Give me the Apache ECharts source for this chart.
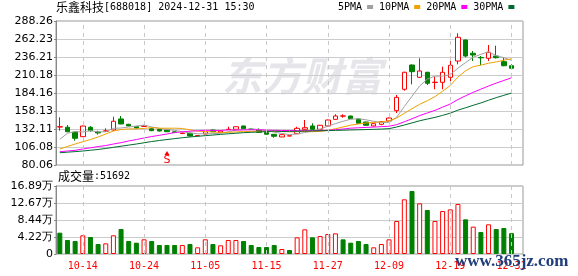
<!DOCTYPE html>
<html>
<head>
<meta charset="utf-8">
<script src="https://cdn.jsdelivr.net/npm/echarts@6/dist/echarts.min.js"></script>
<style>
html,body{margin:0;padding:0;background:#fff;}
#chart{width:578px;height:276px;}
</style>
</head>
<body>
<div id="chart"></div>
<script>
// ---------- data ----------
const stockName = '乐鑫科技';
const stockInfo = '[688018] 2024-12-31 15:30';
const volumeName = '成交量';
const volumeInfo = ':51692';
const maNames = ['5PMA', '10PMA', '20PMA', '30PMA'];

const dates = ['10-09','10-10','10-11','10-14','10-15','10-16','10-17','10-18','10-21','10-22','10-23','10-24','10-25','10-28','10-29','10-30','10-31',
  '11-01','11-04','11-05','11-06','11-07','11-08','11-11','11-12','11-13','11-14','11-15','11-18','11-19','11-20','11-21','11-22','11-25','11-26','11-27','11-28','11-29',
  '12-02','12-03','12-04','12-05','12-06','12-09','12-10','12-11','12-12','12-13','12-16','12-17','12-18','12-19','12-20','12-23','12-24','12-25','12-26','12-27','12-30','12-31'];

const labeledDates = ['10-14','10-24','11-05','11-15','11-27','12-09','12-19','12-31'];

const opens = [135.0,134.6,127.4,121.0,134.6,127.8,129.0,130.7,146.6,138.9,135.4,135.8,132.5,131.7,130.6,128.0,125.5,125.9,122.2,124.9,
  130.6,127.3,131.4,131.7,136.5,132.0,130.6,127.0,124.4,120.6,122.0,125.3,131.7,136.5,131.7,136.5,146.1,150.7,150.9,146.6,
  142.2,136.5,138.9,143.7,158.6,189.5,224.6,206.9,214.1,199.3,199.6,206.9,230.4,260.8,241.6,235.6,234.3,237.6,229.4,223.6];
const closes = [135.4,128.2,118.7,136.4,129.7,126.4,129.4,143.3,139.4,136.5,133.6,136.2,129.7,129.2,128.2,127.0,126.2,122.0,122.6,128.2,
  128.2,129.2,131.7,135.4,132.5,131.3,127.3,124.6,121.6,123.9,122.3,133.1,134.0,131.7,137.5,145.1,150.9,151.1,147.0,140.4,
  137.5,139.8,142.7,148.0,177.9,214.1,215.0,216.0,198.2,199.8,214.1,224.2,264.7,237.6,239.1,235.0,243.0,235.2,223.6,219.9];
const lows = [129.7,127.5,115.2,120.5,128.2,124.1,128.0,129.5,139.0,136.0,133.0,135.0,129.0,128.5,127.8,126.5,125.0,121.5,122.0,124.5,
  128.0,127.0,131.0,131.5,132.2,131.0,127.0,124.2,119.5,120.3,121.8,124.8,131.3,131.0,131.3,136.0,145.5,148.4,146.5,140.0,
  137.0,136.0,137.5,143.3,155.2,187.5,196.7,206.0,195.7,189.5,189.5,200.5,225.6,236.0,230.4,224.6,230.4,234.0,222.8,218.4];
const highs = [149.0,137.9,128.5,136.8,136.4,129.7,133.1,149.9,150.9,139.5,136.0,137.5,133.0,132.0,131.0,128.5,127.0,126.5,123.0,128.5,
  131.5,130.0,135.4,135.8,136.8,133.0,133.0,127.3,124.8,124.2,122.6,135.4,145.1,140.4,138.0,145.6,153.4,153.4,151.3,147.0,
  142.7,140.2,143.0,148.5,181.3,215.0,225.5,234.3,214.8,207.7,222.2,236.6,270.5,261.5,244.9,237.6,253.6,252.6,235.8,225.6];

const ma5 = [117.2,125.9,128.5,127.8,129.7,127.9,128.1,133.0,133.6,135.0,136.4,137.8,135.1,133.0,131.4,130.1,128.1,126.5,125.2,125.2,
  125.4,126.0,128.0,130.5,131.4,132.0,131.6,130.2,127.5,125.7,123.9,125.1,127.0,129.0,131.7,136.3,139.8,143.3,146.3,146.9,
  145.4,143.2,141.5,141.7,149.2,164.5,179.5,194.2,204.2,208.6,208.6,210.5,220.2,228.1,235.9,240.1,243.9,238.0,235.2,231.3];
const ma10 = [103.2,106.8,110.4,113.7,116.9,120.5,124.9,129.2,131.3,132.3,132.2,133.0,134.1,133.3,133.2,133.3,132.9,130.8,129.1,128.3,
  127.8,127.1,127.3,127.9,128.3,128.7,128.8,129.1,129.0,128.6,128.0,128.4,128.6,128.2,128.7,130.1,132.5,135.1,137.7,139.3,
  140.8,141.5,142.4,144.0,148.0,154.9,161.4,167.8,173.0,178.9,186.6,195.0,207.2,216.2,222.3,224.4,227.2,229.1,231.6,233.6];
const ma20 = [99.3,100.3,101.3,103.2,104.9,106.7,108.2,110.4,112.4,114.8,116.9,119.1,121.2,123.0,124.9,126.9,128.1,128.9,129.5,130.3,
  130.0,130.0,130.7,130.6,130.7,131.0,130.9,130.4,130.2,130.0,129.9,129.8,129.8,129.8,129.9,130.2,131.0,132.1,133.3,133.9,
  134.4,134.9,135.5,136.1,138.4,142.5,146.9,151.5,155.3,159.1,163.7,168.3,174.8,180.1,185.2,189.7,194.3,198.5,202.3,206.3];
const ma30 = [97.8,98.6,99.4,100.3,101.4,102.5,104.0,105.6,107.2,108.8,110.4,112.2,114.0,115.5,116.9,118.2,119.5,120.6,121.6,122.5,
  123.4,124.3,125.2,126.0,126.8,127.3,127.8,128.4,129.0,128.5,128.7,128.9,129.1,129.3,129.5,129.8,130.1,130.4,130.7,131.0,
  131.3,131.6,132.0,132.6,135.0,137.9,140.9,144.0,146.5,148.9,151.8,155.0,159.4,162.8,166.4,169.8,173.7,177.4,180.8,184.0];

const volumes = [52900,34800,32300,46400,42200,24800,26500,46400,62100,32300,28100,36500,32300,22400,22400,22400,22400,24800,16600,36500,
  24800,21600,34800,34800,32300,22400,17400,17400,22400,12400,9900,41400,61300,41400,44700,49700,51300,36400,28100,32300,
  24800,16600,24800,36400,82000,135800,156500,125800,109300,82000,106800,110900,124200,86100,67900,54600,73700,62100,64600,51692];
// 1 = up day (red hollow), -1 = down day (green filled), as seen on the volume bars
const volDir = [-1,-1,-1,1,-1,-1,1,1,-1,-1,-1,1,-1,-1,-1,-1,1,-1,1,1,
  -1,1,1,1,-1,-1,-1,-1,-1,1,-1,1,1,-1,1,1,1,-1,-1,-1,
  -1,1,1,1,1,1,-1,1,-1,1,1,1,1,-1,1,-1,1,-1,-1,-1];

const priceMin = 80.06, priceMax = 288.26, priceStep = 26.025;
const priceTickLabels = ['80.06','106.08','132.11','158.13','184.16','210.18','236.21','262.23','288.26'];
const volMin = 0, volMax = 168900, volStep = 42225;
const volTickLabels = ['0','4.22万','8.44万','12.67万','16.89万'];

const signalDate = '10-29';
const signalValue = 97.4;
const signalText = 'S';
const watermark1 = '东方财富';
const watermark2 = 'www.365jz.com';

// ---------- chart ----------
const UP = '#ff0000', DOWN = '#008000';
const axisCats = dates.concat(['']);
const candleData = dates.map((d, i) => [opens[i], closes[i], lows[i], highs[i]]);
const volData = volumes.map((v, i) => volDir[i] > 0
  ? { value: v, itemStyle: { color: '#ffffff', borderColor: UP, borderWidth: 1 } }
  : { value: v, itemStyle: { color: DOWN, borderColor: DOWN, borderWidth: 1 } });

const numFont = 'DejaVu Sans';
const monoFont = 'DejaVu Sans Mono';
const cjkFont = 'Noto Sans CJK SC';

function tickFmt(labels, min, step) {
  return v => { const k = Math.round((v - min) / step); return labels[k] !== undefined ? labels[k] : ''; };
}
const dashLines = labeledDates.map(d => ({ xAxis: d }));
const maColors = ['#a0a0a0', '#f0a000', '#ff00ff', '#006b2e'];

function maSeries(name, data, color) {
  return { name, type: 'line', data, xAxisIndex: 0, yAxisIndex: 0, showSymbol: false, symbol: 'none',
    lineStyle: { width: 1, color }, itemStyle: { color }, z: 4, silent: true };
}
const richTitle = {
  c: { fontFamily: cjkFont, fontSize: 12, color: '#000', fontWeight: 'normal' },
  a: { fontFamily: monoFont, fontSize: 10, color: '#000', fontWeight: 'normal' }
};

const chart = echarts.init(document.getElementById('chart'), null, { renderer: 'canvas' });
chart.setOption({
  animation: false,
  backgroundColor: '#fff',
  grid: [
    { left: 56, top: 21, width: 467, height: 144, show: true, borderColor: '#999', borderWidth: 1, backgroundColor: 'transparent' },
    { left: 56, top: 186, width: 467, height: 68, show: true, borderColor: '#999', borderWidth: 1, backgroundColor: 'transparent' }
  ],
  title: [
    { left: 56, top: 1, padding: 0, text: '{c|' + stockName + '}{a|' + stockInfo + '}',
      textStyle: { fontWeight: 'normal', rich: richTitle } },
    { left: 58, top: 170, padding: 0, text: '{c|' + volumeName + '}{a|' + volumeInfo + '}',
      textStyle: { fontWeight: 'normal', rich: richTitle } }
  ],
  legend: {
    data: maNames.map(n => ({ name: n, icon: 'rect' })),
    left: 338, top: 2, padding: 0, align: 'right', itemWidth: 6, itemHeight: 4, itemGap: 6,
    textStyle: { fontFamily: monoFont, fontSize: 10, color: '#000' },
    selectedMode: false
  },
  xAxis: [
    { type: 'category', gridIndex: 0, data: axisCats, boundaryGap: true,
      axisLine: { show: false }, axisTick: { show: false }, axisLabel: { show: false }, splitLine: { show: false } },
    { type: 'category', gridIndex: 1, data: axisCats, boundaryGap: true,
      axisLine: { show: false }, axisTick: { show: false }, splitLine: { show: false },
      axisLabel: { show: true, interval: (i, v) => labeledDates.indexOf(v) >= 0, color: '#ff0000',
        fontFamily: monoFont, fontSize: 10, margin: 7 } }
  ],
  yAxis: [
    { type: 'value', gridIndex: 0, min: priceMin, max: priceMax, interval: priceStep,
      axisLine: { show: true, lineStyle: { color: '#888' } },
      axisTick: { show: true, length: 2, lineStyle: { color: '#888' } },
      axisLabel: { formatter: tickFmt(priceTickLabels, priceMin, priceStep), color: '#000', fontFamily: numFont, fontSize: 11, margin: 3 },
      splitLine: { show: true, lineStyle: { color: '#cccccc', width: 1 } } },
    { type: 'value', gridIndex: 1, min: volMin, max: volMax, interval: volStep,
      axisLine: { show: true, lineStyle: { color: '#888' } },
      axisTick: { show: true, length: 2, lineStyle: { color: '#888' } },
      axisLabel: { formatter: tickFmt(volTickLabels, volMin, volStep), color: '#000', fontFamily: numFont, fontSize: 11, margin: 3 },
      splitLine: { show: true, lineStyle: { color: '#cccccc', width: 1 } } }
  ],
  graphic: [
    { type: 'text', left: 222, top: 56, z: 0, silent: true,
      style: { text: watermark1, font: 'italic bold 40px "Noto Sans CJK SC"', fill: '#e6e6ea' } },
    { type: 'text', left: 455, top: 253, z: 100, silent: true,
      style: { text: watermark2, font: 'bold 17px "Liberation Serif"', fill: '#1f3d7a' } }
  ],
  series: [
    { type: 'line', data: [], xAxisIndex: 0, yAxisIndex: 0, z: 1, silent: true,
      markLine: { silent: true, symbol: ['none', 'none'], label: { show: false }, animation: false,
        lineStyle: { type: [4, 4], color: '#c8c8c8', width: 1 }, data: dashLines } },
    { type: 'line', data: [], xAxisIndex: 1, yAxisIndex: 1, z: 1, silent: true,
      markLine: { silent: true, symbol: ['none', 'none'], label: { show: false }, animation: false,
        lineStyle: { type: [4, 4], color: '#c8c8c8', width: 1 }, data: dashLines } },
    { name: 'K', type: 'candlestick', data: candleData, xAxisIndex: 0, yAxisIndex: 0, barWidth: 5, z: 3, silent: true,
      itemStyle: { color: '#ffffff', color0: DOWN, borderColor: UP, borderColor0: DOWN, borderWidth: 1 },
      markPoint: { silent: true, animation: false,
        data: [{ coord: [signalDate, signalValue], symbol: 'triangle', symbolSize: [5, 4], itemStyle: { color: UP },
          label: { show: true, position: 'bottom', distance: 0, formatter: signalText, color: UP, fontFamily: numFont, fontSize: 11 } }] } },
    maSeries(maNames[0], ma5, maColors[0]),
    maSeries(maNames[1], ma10, maColors[1]),
    maSeries(maNames[2], ma20, maColors[2]),
    maSeries(maNames[3], ma30, maColors[3]),
    { name: 'VOL', type: 'bar', data: volData, xAxisIndex: 1, yAxisIndex: 1, barWidth: 5, z: 3, silent: true }
  ]
});
</script>
</body>
</html>
